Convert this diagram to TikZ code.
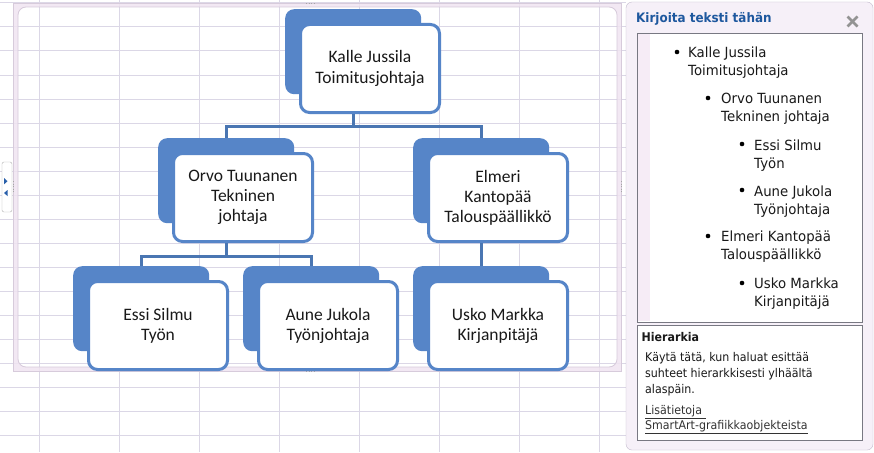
\documentclass[tikz,border=0pt]{standalone}
\usepackage{fontspec}
\setmainfont{Carlito}
\newfontfamily\panelfont[FakeStretch=0.92]{DejaVu Sans}
\newfontfamily\itemfont[FakeStretch=0.95]{DejaVu Sans}
\definecolor{gridc}{RGB}{219,215,230}
\definecolor{backc}{RGB}{86,133,200}
\definecolor{connc}{RGB}{74,118,178}
\definecolor{bandc}{RGB}{240,229,241}
\definecolor{framelc}{RGB}{215,203,219}
\definecolor{panelc}{RGB}{246,240,248}
\definecolor{panelbc}{RGB}{196,188,206}
\definecolor{boxbc}{RGB}{120,120,130}
\definecolor{stripc}{RGB}{246,236,246}
\definecolor{titlec}{RGB}{30,88,158}
\definecolor{tabc}{RGB}{40,95,170}
\definecolor{txtc}{RGB}{25,25,25}
\begin{document}
\begin{tikzpicture}[x=1pt,y=-1pt,
  backbox/.style={fill=backc, rounded corners=9pt, minimum width=136pt, minimum height=85pt, inner sep=0pt, anchor=north west},
  frontbox/.style={draw=backc, line width=3pt, fill=white, rounded corners=9pt, minimum width=139pt, minimum height=88pt, inner sep=0pt, anchor=north west, align=center, text=txtc, font=\fontsize{17.5}{21}\selectfont},
  conn/.style={draw=connc, line width=3pt},
  item/.style={anchor=base west, inner sep=0pt, align=left, text=txtc, font=\itemfont\fontsize{14}{18}\selectfont},
  bul/.style={circle, fill=black, inner sep=0pt, minimum size=4.6pt},
  desc/.style={anchor=base west, inner sep=0pt, align=left, text=txtc, font=\panelfont\fontsize{12}{16}\selectfont}]
\useasboundingbox (0,0) rectangle (874,452);
\fill[white] (0,0) rectangle (874,452);
% spreadsheet grid
\foreach \x in {39,119,...,599} \draw[gridc, line width=1pt] (\x,0) -- (\x,452);
\foreach \y in {3,27,...,435} \draw[gridc, line width=1pt] (0,\y) -- (626,\y);
% chart frame
\fill[bandc, fill opacity=0.85, even odd rule] (13,3) rectangle (621,371) [rounded corners=8pt] (18,7) rectangle (617,367);
\draw[framelc, line width=0.8pt] (13,3) rectangle (621,371);
\draw[framelc, line width=0.8pt, rounded corners=8pt] (18,7) rectangle (617,367);
\foreach \p in {(310,3),(310,371)} \draw[gray!70, line width=0.8pt, dash pattern=on 1pt off 1.5pt] \p ++(-4,0) -- ++(10,0);
\foreach \p in {(13,181),(621,181)} \draw[gray!70, line width=0.8pt, dash pattern=on 1pt off 1.5pt] \p -- ++(0,12);
% left tab
\draw[gray!60, fill=white, rounded corners=2pt] (2,162) rectangle (12,212);
\fill[tabc] (4,178) -- (7.5,181.2) -- (4,184.4) -- cycle;
\fill[tabc] (7.5,190) -- (4,193) -- (7.5,196) -- cycle;
% hierarchy boxes
\node[backbox] (kb) at (285,9) {};
\node[frontbox] (kf) at (299,23) {Kalle Jussila\\Toimitusjohtaja};
\node[backbox] (ob) at (158,138) {};
\node[frontbox, font=\fontsize{17.5}{20}\selectfont] (of) at (172,152) {Orvo Tuunanen\\Tekninen\\johtaja};
\node[backbox] (eb) at (413,138) {};
\node[frontbox, font=\fontsize{17.5}{20}\selectfont] (ef) at (427,152) {Elmeri\\Kantopää\\Talouspäällikkö};
\node[backbox] (sb) at (73,266) {};
\node[frontbox, font=\fontsize{17.5}{20}\selectfont] (sf) at (87,280) {Essi Silmu\\Työn};
\node[backbox] (ab) at (243,266) {};
\node[frontbox, font=\fontsize{17.5}{20}\selectfont] (af) at (257,280) {Aune Jukola\\Työnjohtaja};
\node[backbox] (ub) at (413,266) {};
\node[frontbox, font=\fontsize{17.5}{20}\selectfont] (uf) at (427,280) {Usko Markka\\Kirjanpitäjä};
% connectors
\draw[conn] (kb.center |- kf.south) -- ++(0,12) -| (ob.north);
\draw[conn] (kb.center |- kf.south) -- ++(0,12) -| (eb.north);
\draw[conn] (ob.center |- of.south) -- ++(0,13) -| (sb.north);
\draw[conn] (ob.center |- of.south) -- ++(0,13) -| (ab.north);
\draw[conn] (eb.center |- ef.south) -- (ub.north);
% text pane
\draw[panelbc, fill=panelc, rounded corners=6pt] (626,2) rectangle (873,450);
\node[anchor=base west, inner sep=0pt, text=titlec, font=\panelfont\bfseries\fontsize{13}{15}\selectfont] (title) at (636,23) {Kirjoita teksti tähän};
\draw[gray!85, line width=2.6pt] (847.5,16.5) -- (857.5,26.5);
\draw[gray!85, line width=2.6pt] (857.5,16.5) -- (847.5,26.5);
\draw[boxbc, fill=white, line width=0.8pt] (637,33) rectangle (862,322);
\fill[stripc] (637.6,33.6) rectangle (650,321.4);
% (node base = baseline of the last line)
\node[bul] (b1) at (677,52) {};
\node[item] (t1) at (688,75) {Kalle Jussila\\Toimitusjohtaja};
\node[bul] (b2) at (708,98) {};
\node[item] (t2) at (721,121.5) {Orvo Tuunanen\\Tekninen johtaja};
\node[bul] (b3) at (742,144) {};
\node[item] (t3) at (754,168) {Essi Silmu\\Työn};
\node[bul] (b4) at (742,190) {};
\node[item] (t4) at (754,214.5) {Aune Jukola\\Työnjohtaja};
\node[bul] (b5) at (708,236) {};
\node[item] (t5) at (721,259) {Elmeri Kantopää\\Talouspäällikkö};
\node[bul] (b6) at (742,283) {};
\node[item] (t6) at (754,306) {Usko Markka\\Kirjanpitäjä};
% description
\draw[boxbc, fill=white, line width=0.8pt] (637,325) rectangle (862,440);
\node[desc, font=\panelfont\bfseries\fontsize{12}{16}\selectfont] (hier) at (641.5,341.5) {Hierarkia};
\node[desc] (dtext) at (645,393) {Käytä tätä, kun haluat esittää\\suhteet hierarkkisesti ylhäältä\\alaspäin.};
\node[desc, text=black!80, font=\panelfont\fontsize{12}{15}\selectfont] (link) at (645,429) {\underline{Lisätietoja\ }\\\underline{SmartArt-grafiikkaobjekteista}};
\end{tikzpicture}
\end{document}
